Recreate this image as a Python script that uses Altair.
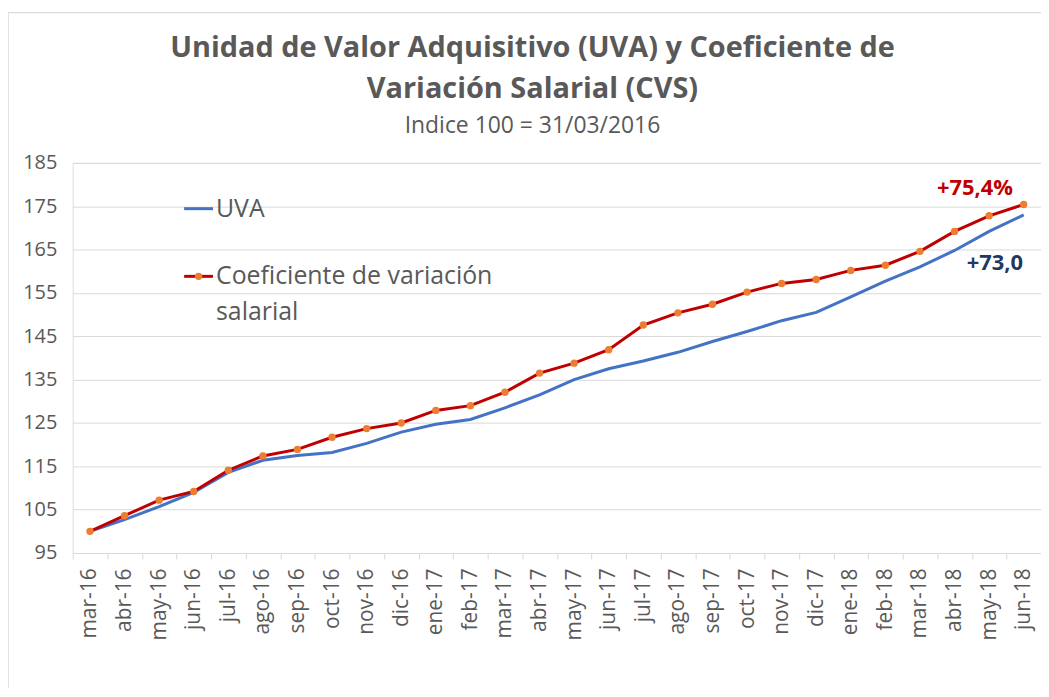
import altair as alt
import pandas as pd

months = ["mar-16", "abr-16", "may-16", "jun-16", "jul-16", "ago-16", "sep-16", "oct-16",
          "nov-16", "dic-16", "ene-17", "feb-17", "mar-17", "abr-17", "may-17", "jun-17",
          "jul-17", "ago-17", "sep-17", "oct-17", "nov-17", "dic-17", "ene-18", "feb-18",
          "mar-18", "abr-18", "may-18", "jun-18"]
uva = [100, 102.7, 105.7, 109.0, 113.6, 116.4, 117.5, 118.2, 120.3, 122.9, 124.7, 125.8,
       128.5, 131.5, 135.0, 137.5, 139.3, 141.3, 143.8, 146.1, 148.6, 150.5, 154.1, 157.7,
       161.0, 164.8, 169.2, 173.0]
cvs = [100, 103.6, 107.2, 109.2, 114.1, 117.4, 118.9, 121.7, 123.7, 125.0, 127.9, 129.0,
       132.1, 136.5, 138.8, 141.9, 147.6, 150.4, 152.4, 155.2, 157.2, 158.1, 160.2, 161.4,
       164.6, 169.2, 172.8, 175.4]
y_ticks = [95, 105, 115, 125, 135, 145, 155, 165, 175, 185]

title_lines = ["Unidad de Valor Adquisitivo (UVA) y Coeficiente de", "Variación Salarial (CVS)"]
subtitle = ["Indice 100 = 31/03/2016"]
legend_uva = ["UVA"]
legend_cvs = ["Coeficiente de variación", "salarial"]
ann_cvs = {"month": ["jun-18"], "value": [179.2], "label": ["+75,4%"]}
ann_uva = {"month": ["jun-18"], "value": [162.0], "label": ["+73,0"]}

GRAY = "#595959"
FONT = "Open Sans"

df_uva = pd.DataFrame({"month": months, "value": uva})
df_cvs = pd.DataFrame({"month": months, "value": cvs})

x_enc = alt.X("month:O", sort=months, bandPosition=0.5,
              scale=alt.Scale(type="band", paddingInner=0, paddingOuter=0),
              axis=alt.Axis(title=None, labelAngle=270, labelFont=FONT, labelFontSize=21,
                            labelColor=GRAY, labelPadding=9, tickBand="extent",
                            domainColor="#d9d9d9", tickColor="#d9d9d9", tickSize=6,
                            grid=False, labelAlign="right", labelBaseline="middle"))
y_enc = alt.Y("value:Q", scale=alt.Scale(domain=[95, 185], nice=False, zero=False),
              axis=alt.Axis(title=None, values=y_ticks, grid=True, gridColor="#d9d9d9",
                            domain=False, ticks=False, labelPadding=16, labelFont=FONT,
                            labelFontSize=20, labelColor=GRAY))

one = pd.DataFrame({"a": [0]})

border = alt.Chart(one).mark_rect(
    fillOpacity=0, stroke="#d9d9d9", strokeWidth=1.5
).encode(x=alt.value(-65), x2=alt.value(1200), y=alt.value(-151), y2=alt.value(900))

title1 = alt.Chart(pd.DataFrame({"t": [title_lines[0]]})).mark_text(
    font=FONT, fontSize=29, fontWeight="bold", color=GRAY, align="center", baseline="middle"
).encode(x=alt.value(462), y=alt.value(-115), text="t:N")
title2 = alt.Chart(pd.DataFrame({"t": [title_lines[1]]})).mark_text(
    font=FONT, fontSize=29, fontWeight="bold", color=GRAY, align="center", baseline="middle"
).encode(x=alt.value(462), y=alt.value(-74), text="t:N")
sub = alt.Chart(pd.DataFrame({"t": subtitle})).mark_text(
    font=FONT, fontSize=23, color=GRAY, align="center", baseline="middle"
).encode(x=alt.value(462), y=alt.value(-37), text="t:N")

line_uva = alt.Chart(df_uva).mark_line(color="#4472c4", strokeWidth=3).encode(x=x_enc, y=y_enc)
line_cvs = alt.Chart(df_cvs).mark_line(color="#c00000", strokeWidth=3).encode(x=x_enc, y=y_enc)
pts_cvs = alt.Chart(df_cvs).mark_circle(color="#ed7d31", size=55, opacity=1).encode(x=x_enc, y=y_enc)

x_plain = alt.X("month:O", sort=months, bandPosition=0.5)

t1 = alt.Chart(pd.DataFrame(ann_cvs)).mark_text(
    font=FONT, fontSize=22, fontWeight="bold", color="#c00000", align="center", dx=-49
).encode(x=x_plain, y="value:Q", text="label:N")
t2 = alt.Chart(pd.DataFrame(ann_uva)).mark_text(
    font=FONT, fontSize=22, fontWeight="bold", color="#1f3864", align="center", dx=-29
).encode(x=x_plain, y="value:Q", text="label:N")

# manual legend
leg_line1 = alt.Chart(one).mark_rule(color="#4472c4", strokeWidth=3).encode(
    x=alt.value(112), x2=alt.value(141), y=alt.value(46))
leg_text1 = alt.Chart(pd.DataFrame({"t": legend_uva})).mark_text(
    font=FONT, fontSize=25, color=GRAY, align="left", baseline="middle"
).encode(x=alt.value(144), y=alt.value(46), text="t:N")
leg_line2 = alt.Chart(one).mark_rule(color="#c00000", strokeWidth=3).encode(
    x=alt.value(112), x2=alt.value(141), y=alt.value(114))
leg_dot2 = alt.Chart(one).mark_circle(color="#ed7d31", size=55, opacity=1).encode(
    x=alt.value(126.5), y=alt.value(114))
leg_text2 = alt.Chart(pd.DataFrame({"t": [legend_cvs[0]]})).mark_text(
    font=FONT, fontSize=25, color=GRAY, align="left", baseline="middle"
).encode(x=alt.value(144), y=alt.value(114), text="t:N")
leg_text3 = alt.Chart(pd.DataFrame({"t": [legend_cvs[1]]})).mark_text(
    font=FONT, fontSize=25, color=GRAY, align="left", baseline="middle"
).encode(x=alt.value(144), y=alt.value(150), text="t:N")

chart = alt.layer(
    border, title1, title2, sub, line_uva, line_cvs, pts_cvs, t1, t2,
    leg_line1, leg_text1, leg_line2, leg_dot2, leg_text2, leg_text3
).properties(
    width=973, height=392,
    padding={"left": 65, "top": 154, "right": 0, "bottom": 134},
    autosize=alt.AutoSizeParams(type="none"),
).configure_view(stroke=None).configure(background="white")

chart.save("out.html", embed_options={"renderer": "svg", "actions": False})
